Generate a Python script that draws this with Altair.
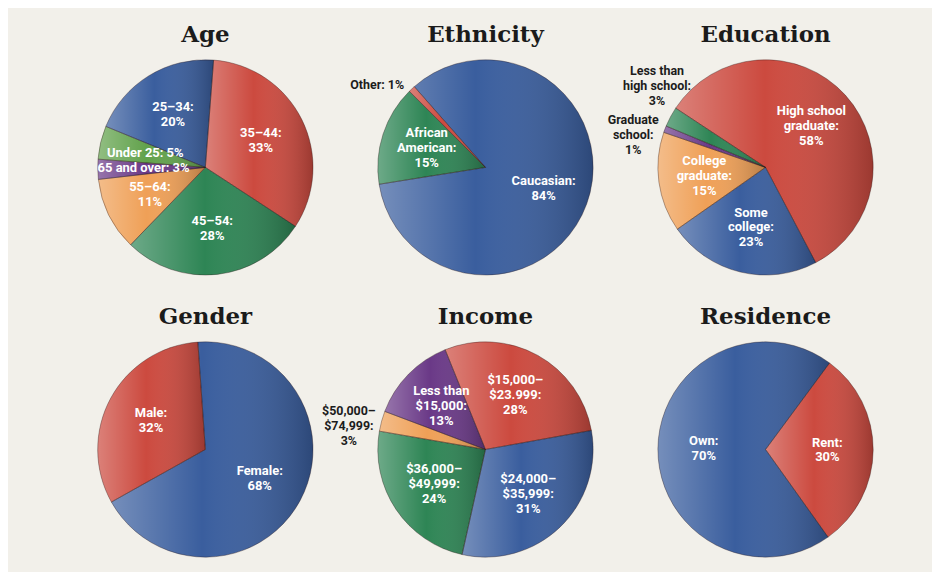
import math
import altair as alt
import pandas as pd

# ---------------- data ----------------
age_names = ["35–44", "45–54", "55–64", "65 and over", "Under 25", "25–34"]
age_values = [33, 28, 11, 3, 5, 20]

eth_names = ["Caucasian", "African\nAmerican", "Other"]
eth_values = [84, 15, 1]

edu_names = ["High school\ngraduate", "Some\ncollege", "College\ngraduate", "Graduate\nschool", "Less than\nhigh school"]
edu_values = [58, 23, 15, 1, 3]

gen_names = ["Female", "Male"]
gen_values = [68, 32]

inc_names = ["$15,000–\n$23.999", "$24,000–\n$35,999", "$36,000–\n$49,999", "$50,000–\n$74,999", "Less than\n$15,000"]
inc_values = [28, 31, 24, 3, 13]

res_names = ["Rent", "Own"]
res_values = [30, 70]

one_line = {"65 and over", "Under 25", "Other"}

# ---------------- style ----------------
RED = "#cc4a3f"
BLUE = "#3a5e9e"
GREEN = "#2e8555"
LGREEN = "#62a24c"
ORANGE = "#efa057"
PURPLE = "#6a3987"

BG = "#f2f0ea"
R = 108
LH = 15
TITLE_FONT = "DejaVu Serif"
LABEL_FONT = "Roboto"

shade = alt.LinearGradient(
    gradient="linear",
    stops=[
        alt.GradientStop(color="rgba(255,255,255,0.30)", offset=0),
        alt.GradientStop(color="rgba(255,255,255,0.0)", offset=0.45),
        alt.GradientStop(color="rgba(0,0,0,0.24)", offset=1),
    ],
    x1=0, x2=1, y1=0, y2=0,
)


def make_pie(title, names, values, colors, start_deg, outside=None):
    outside = outside or {}
    labels = [
        f"{n}: {v}%" if n in one_line else f"{n}:\n{v}%" for n, v in zip(names, values)
    ]
    df = pd.DataFrame({
        "order": list(range(len(names))),
        "name": names,
        "value": values,
        "label": labels,
        "nl": [l.count("\n") + 1 for l in labels],
        "out": [n in outside for n in names],
    })
    total = float(sum(values))
    s = math.radians(start_deg)
    tscale = alt.Scale(domain=[0, total], range=[s, s + 2 * math.pi])

    base = alt.Chart(df).encode(
        theta=alt.Theta("value:Q", stack=True, scale=tscale),
        order=alt.Order("order:Q", sort="ascending"),
    )
    arcs = base.mark_arc(outerRadius=R).encode(
        color=alt.Color("name:N", scale=alt.Scale(domain=names, range=colors), legend=None)
    )
    gloss = base.mark_arc(outerRadius=R, color=shade, stroke="rgba(40,20,20,0.35)", strokeWidth=1)
    layers = [arcs, gloss]

    # label positions: mid-angle of each slice, computed from the data
    tbase = (
        alt.Chart(df)
        .transform_window(cum="sum(value)", sort=[alt.SortField("order")], frame=[None, 0])
        .transform_calculate(mid="datum.cum - datum.value / 2")
    )
    for n_l in (1, 2, 3):
        if not ((df["nl"] == n_l) & (~df["out"])).any():
            continue
        layers.append(
            tbase.transform_filter(f"datum.nl == {n_l} && !datum.out")
            .mark_text(
                radius=62, dy=-(n_l - 1) * LH / 2, color="white", font=LABEL_FONT,
                fontWeight="bold", fontSize=13, lineBreak="\n", lineHeight=LH,
                align="center", baseline="middle",
            )
            .encode(theta=alt.Theta("mid:Q", stack=None, scale=tscale), text="label:N")
        )
    for n, (dx, dy) in outside.items():
        idx = names.index(n)
        n_l = labels[idx].count("\n") + 1
        layers.append(
            tbase.transform_filter(f"datum.order == {idx}")
            .mark_text(
                radius=112, dx=dx, dy=dy - (n_l - 1) * LH / 2, color="#1c1c1c",
                font=LABEL_FONT, fontWeight="bold", fontSize=12.5, lineBreak="\n",
                lineHeight=LH, align="center", baseline="middle",
            )
            .encode(theta=alt.Theta("mid:Q", stack=None, scale=tscale), text="label:N")
        )
    return alt.layer(*layers).properties(
        width=2 * R, height=2 * R,
        title=alt.Title(title, font=TITLE_FONT, fontSize=23, fontWeight="bold",
                        color="#1b1b1b", offset=11, anchor="middle", frame="group"),
    )


age = make_pie("Age", age_names, age_values, [RED, GREEN, ORANGE, PURPLE, LGREEN, BLUE], 4.4)
eth = make_pie("Ethnicity", eth_names, eth_values, [BLUE, GREEN, RED], -41.4,
               outside={"Other": (-32, -1)})
edu = make_pie("Education", edu_names, edu_values, [RED, BLUE, ORANGE, PURPLE, GREEN], -56.6,
               outside={"Less than\nhigh school": (-10, -29), "Graduate\nschool": (-28, 7)})
gen = make_pie("Gender", gen_names, gen_values, [BLUE, RED], -4)
inc = make_pie("Income", inc_names, inc_values, [RED, BLUE, GREEN, ORANGE, PURPLE], -22,
               outside={"$50,000–\n$74,999": (-29, 6)})
res = make_pie("Residence", res_names, res_values, [RED, BLUE], 36.5)

chart = (
    alt.concat(age, eth, edu, gen, inc, res, columns=3,
               spacing=alt.RowColnumber(row=67, column=65), bounds="flush")
    .resolve_scale(color="independent", theta="independent")
    .properties(background=BG, padding={"left": 88, "top": 15, "right": 57, "bottom": 12})
    .configure_view(stroke=None)
)

chart.save("out.html", embed_options={"renderer": "svg", "actions": False})
